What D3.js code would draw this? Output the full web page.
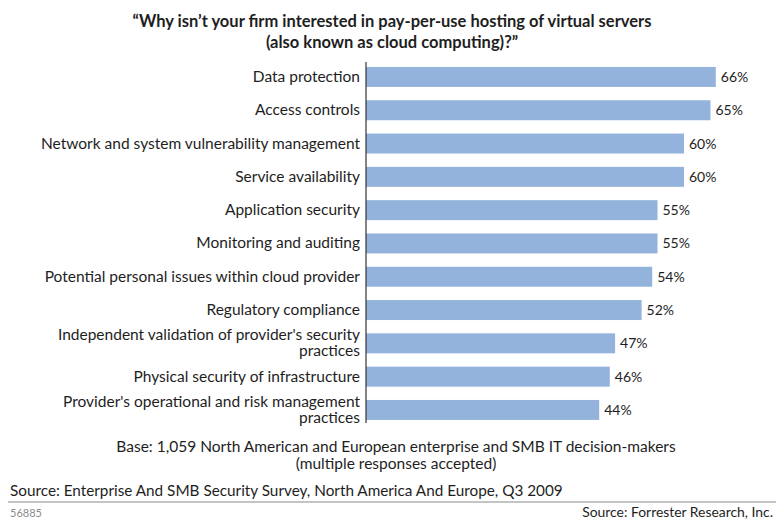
<!DOCTYPE html>
<html>
<head>
<meta charset="utf-8">
<script src="https://cdn.jsdelivr.net/npm/d3@7"></script>
<style>
  body { margin: 0; background: #fff; }
  svg text { font-family: Lato, "Open Sans", sans-serif; fill: #1e1e1e; }
</style>
</head>
<body>
<svg width="776" height="521"></svg>
<script>
// survey answers, top to bottom
var categories = [
  "Data protection",
  "Access controls",
  "Network and system vulnerability management",
  "Service availability",
  "Application security",
  "Monitoring and auditing",
  "Potential personal issues within cloud provider",
  "Regulatory compliance",
  "Independent validation of provider's security|practices",
  "Physical security of infrastructure",
  "Provider's operational and risk management|practices"
];
var values = [66, 65, 60, 60, 55, 55, 54, 52, 47, 46, 44];
var titleLines = [
  "\u201cWhy isn\u2019t your firm interested in pay-per-use hosting of virtual servers",
  "(also known as cloud computing)?\u201d"
];
var baseLines = [
  "Base: 1,059 North American and European enterprise and SMB IT decision-makers",
  "(multiple responses accepted)"
];
var sourceText = "Source: Enterprise And SMB Security Survey, North America And Europe, Q3 2009";
var figureId = "56885";
var creditText = "Source: Forrester Research, Inc.";

var svg = d3.select("svg");

var x = d3.scaleLinear().domain([0, 100]).range([366, 896]);
var y = d3.scaleBand().domain(categories).range([60.3, 426.6])
  .paddingInner(0.4).paddingOuter(0.2);

// title
svg.append("g").selectAll("text")
  .data(titleLines)
  .enter()
  .append("text")
  .attr("x", 392)
  .attr("y", function(d, i) { return 27 + i * 21; })
  .attr("text-anchor", "middle")
  .style("font-weight", "bold")
  .style("font-size", "16.5px")
  .text(function(d) { return d; });

// bars
svg.append("g").selectAll("rect")
  .data(values)
  .enter()
  .append("rect")
  .attr("x", x(0))
  .attr("y", function(d, i) { return y(categories[i]); })
  .attr("width", function(d) { return x(d) - x(0); })
  .attr("height", y.bandwidth())
  .attr("fill", "#94b3dc");

// axis line
svg.append("line")
  .attr("x1", x(0)).attr("x2", x(0))
  .attr("y1", 62).attr("y2", 423)
  .attr("stroke", "#333")
  .attr("stroke-width", 1.2);

// category labels (| splits a label over two lines)
var labels = svg.append("g").selectAll("text")
  .data(categories)
  .enter()
  .append("text")
  .attr("text-anchor", "end")
  .style("font-size", "15.5px");

labels.each(function(d) {
  var parts = d.split("|");
  var cy = y(d) + y.bandwidth() / 2;
  var t = d3.select(this);
  parts.forEach(function(p, k) {
    t.append("tspan")
      .attr("x", 360)
      .attr("y", parts.length == 1 ? cy + 5 : cy - 3 + k * 16)
      .text(p);
  });
});

// value labels
svg.append("g").selectAll("text")
  .data(values)
  .enter()
  .append("text")
  .attr("x", function(d) { return x(d) + 5; })
  .attr("y", function(d, i) { return y(categories[i]) + y.bandwidth() / 2 + 5; })
  .style("font-size", "14px")
  .text(function(d) { return d + "%"; });

// base note
svg.append("g").selectAll("text")
  .data(baseLines)
  .enter()
  .append("text")
  .attr("x", 396)
  .attr("y", function(d, i) { return 452 + i * 17; })
  .attr("text-anchor", "middle")
  .style("font-size", "15.5px")
  .text(function(d) { return d; });

svg.append("text")
  .attr("x", 10).attr("y", 496)
  .style("font-size", "15.3px")
  .text(sourceText);

svg.append("line")
  .attr("x1", 8).attr("x2", 776)
  .attr("y1", 502).attr("y2", 502)
  .attr("stroke", "#8a8a8a")
  .attr("stroke-width", 1);

svg.append("text")
  .attr("x", 10).attr("y", 517)
  .style("font-size", "11px")
  .style("fill", "#8c8c8c")
  .text(figureId);

svg.append("text")
  .attr("x", 773).attr("y", 517)
  .attr("text-anchor", "end")
  .style("font-size", "13.9px")
  .text(creditText);
</script>
</body>
</html>
